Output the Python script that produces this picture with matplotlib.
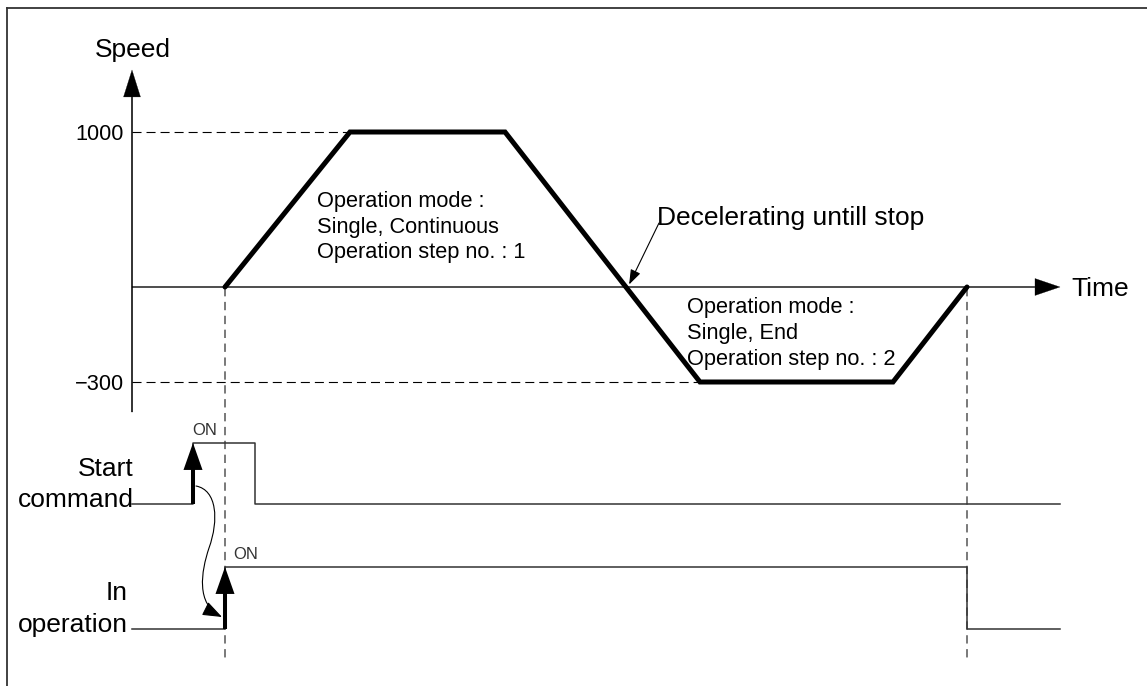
import numpy as np
import matplotlib.pyplot as plt
from matplotlib.path import Path
from matplotlib.patches import FancyArrowPatch

plt.rcParams['font.family'] = ['Liberation Sans', 'DejaVu Sans']
plt.rcParams['lines.scale_dashes'] = False

# -----------------------------
# data (time in arbitrary units, speed in pulses/s)
# -----------------------------
profile_t = [93, 218, 373, 568, 761, 835]
profile_speed = [0, 1000, 1000, -300, -300, 0]
speed_ticks = [1000, -300]
speed_tick_labels = ['1000', '\u2212300']
t_end = 928

start_cmd_t = [0, 61, 123, t_end]
start_cmd = [0, 1, 0, 0]
in_op_t = [0, 93, 835, t_end]
in_op = [0, 1, 0, 0]

step1_text = ['Operation mode :', 'Single, Continuous', 'Operation step no. : 1']
step2_text = ['Operation mode :', 'Single, End', 'Operation step no. : 2']

# -----------------------------
# layout (pixels)
# -----------------------------
W, H = 1147, 686
X0 = 132                 # pixel column of time zero
NEG = 95 / 46.5          # negative speeds drawn stretched (schematic)


def box(top, bottom):
    return [X0 / W, 1 - bottom / H, t_end / W, (bottom - top) / H]


def fwd(v):
    v = np.asarray(v, dtype=float)
    return np.where(v < 0, v * NEG, v)


def inv(u):
    u = np.asarray(u, dtype=float)
    return np.where(u < 0, u / NEG, u)


fig = plt.figure(figsize=(W / 100, H / 100), dpi=100)

# overlay in pixel rows, x = time units
ov = fig.add_axes([0, 0, 1, 1])
ov.set_xlim(-X0, W - X0)
ov.set_ylim(H, 0)
ov.axis('off')

# frame
ov.plot(np.array([7, W]) - X0, [8, 8], color='#333333', lw=1.3, clip_on=False)
ov.plot(np.array([7, 7]) - X0, [8, H], color='#333333', lw=1.3, clip_on=False)

# speed axes
ax_sp = fig.add_axes(box(132, 382))
ax_sp.set_yscale('function', functions=(fwd, inv))
ax_sp.set_xlim(0, t_end)
ax_sp.set_ylim(-300, 1000)
ax_sp.axis('off')

# axes arrows
ax_sp.annotate('', xy=(0, (382 - 70) / 250), xytext=(0, (382 - 412) / 250),
               xycoords=('data', 'axes fraction'), textcoords=('data', 'axes fraction'),
               arrowprops=dict(arrowstyle='simple,head_length=1.94,head_width=1.22,tail_width=0.1',
                               mutation_scale=10, fc='k', ec='k', lw=0.2,
                               shrinkA=0, shrinkB=0),
               annotation_clip=False)
ax_sp.annotate('', xy=(t_end, 0), xytext=(0, 0),
               arrowprops=dict(arrowstyle='simple,head_length=1.8,head_width=1.22,tail_width=0.08',
                               mutation_scale=10, fc='k', ec='k', lw=0.2,
                               shrinkA=0, shrinkB=0),
               annotation_clip=False)

# level guides and labels
for lvl, lab in zip(speed_ticks, speed_tick_labels):
    t_hit = profile_t[profile_speed.index(lvl)]
    ax_sp.plot([0, t_hit], [lvl, lvl], ls=(0, (6.5, 3.6)), color='k', lw=0.8,
               clip_on=False)
    ax_sp.annotate(lab, xy=(0, lvl), xytext=(-8, -8), textcoords='offset pixels',
                   ha='right', va='baseline', fontsize=15.7)

# speed profile
ax_sp.plot(profile_t, profile_speed, color='k', lw=3.6, solid_joinstyle='miter',
           solid_capstyle='round', clip_on=False, zorder=5)

# decelerating label with leader to the zero crossing
u_hi, u_lo = fwd(profile_speed[2]), fwd(profile_speed[3])
t_cross = profile_t[2] + (profile_t[3] - profile_t[2]) * u_hi / (u_hi - u_lo)
ax_sp.annotate('', xy=(t_cross + 2, 0), xytext=(659 - X0, 223),
               textcoords=ov.transData,
               arrowprops=dict(arrowstyle='-|>,head_length=0.9,head_width=0.32',
                               mutation_scale=10, color='k', lw=0.8,
                               shrinkA=0, shrinkB=2))
ov.text(657 - X0, 224.5, 'Decelerating untill stop', ha='left', va='baseline',
        fontsize=19)

# operation text blocks
for i, line in enumerate(step1_text):
    ov.text(317 - X0, 207 + 25.5 * i, line, ha='left', va='baseline', fontsize=15.7)
for i, line in enumerate(step2_text):
    ov.text(687 - X0, 313 + 25.8 * i, line, ha='left', va='baseline', fontsize=15.7)

ov.text(133 - X0, 57, 'Speed', ha='center', va='baseline', fontsize=19)
ov.text(1071 - X0, 295.5, 'Time', ha='left', va='baseline', fontsize=19)

# signal axes
ax_sc = fig.add_axes(box(443, 504))
ax_op = fig.add_axes(box(567, 629))
for ax, t, v in [(ax_sc, start_cmd_t, start_cmd), (ax_op, in_op_t, in_op)]:
    ax.set_xlim(0, t_end)
    ax.set_ylim(0, 1)
    ax.axis('off')
    ax.step(t, v, where='post', color='#333333', lw=1.1, clip_on=False)
    t_on = t[1]
    ax.annotate('', xy=(t_on, 1), xytext=(t_on, 0),
                arrowprops=dict(arrowstyle='simple,head_length=1.94,head_width=1.37,tail_width=0.29',
                                mutation_scale=10, fc='k', ec='none',
                                shrinkA=0, shrinkB=0),
                annotation_clip=False)

ax_sc.annotate('ON', xy=(start_cmd_t[1], 1), xytext=(-1, 8), textcoords='offset pixels',
               ha='left', va='baseline', fontsize=12, color='#333333')
ax_op.annotate('ON', xy=(in_op_t[1], 1), xytext=(8, 8), textcoords='offset pixels',
               ha='left', va='baseline', fontsize=12, color='#333333')

ov.text(134 - X0, 476, 'Start', ha='right', va='baseline', fontsize=19)
ov.text(134 - X0, 507, 'command', ha='right', va='baseline', fontsize=19)
ov.text(128 - X0, 600, 'In', ha='right', va='baseline', fontsize=19)
ov.text(128 - X0, 632, 'operation', ha='right', va='baseline', fontsize=19)

# dashed time markers
for t in (in_op_t[1], in_op_t[2]):
    ov.plot([t, t], [288, 660], ls=(0, (6, 4)), color='#555555', lw=1.1)

# curved link start command -> in operation
a, b = start_cmd_t[1], in_op_t[1]
verts = [(a + 3, 486), (a + 24, 490), (a + 26, 520), (a + 16, 548),
         (a + 8, 572), (a + 3, 604), (b - 3, 617)]
codes = [Path.MOVETO] + [Path.CURVE4] * 6
link = FancyArrowPatch(path=Path(verts, codes),
                       arrowstyle='-|>,head_length=1.2,head_width=0.45',
                       mutation_scale=10, color='k', lw=0.8,
                       transform=ov.transData)
ov.add_patch(link)

fig.savefig('out.png', dpi=100)
